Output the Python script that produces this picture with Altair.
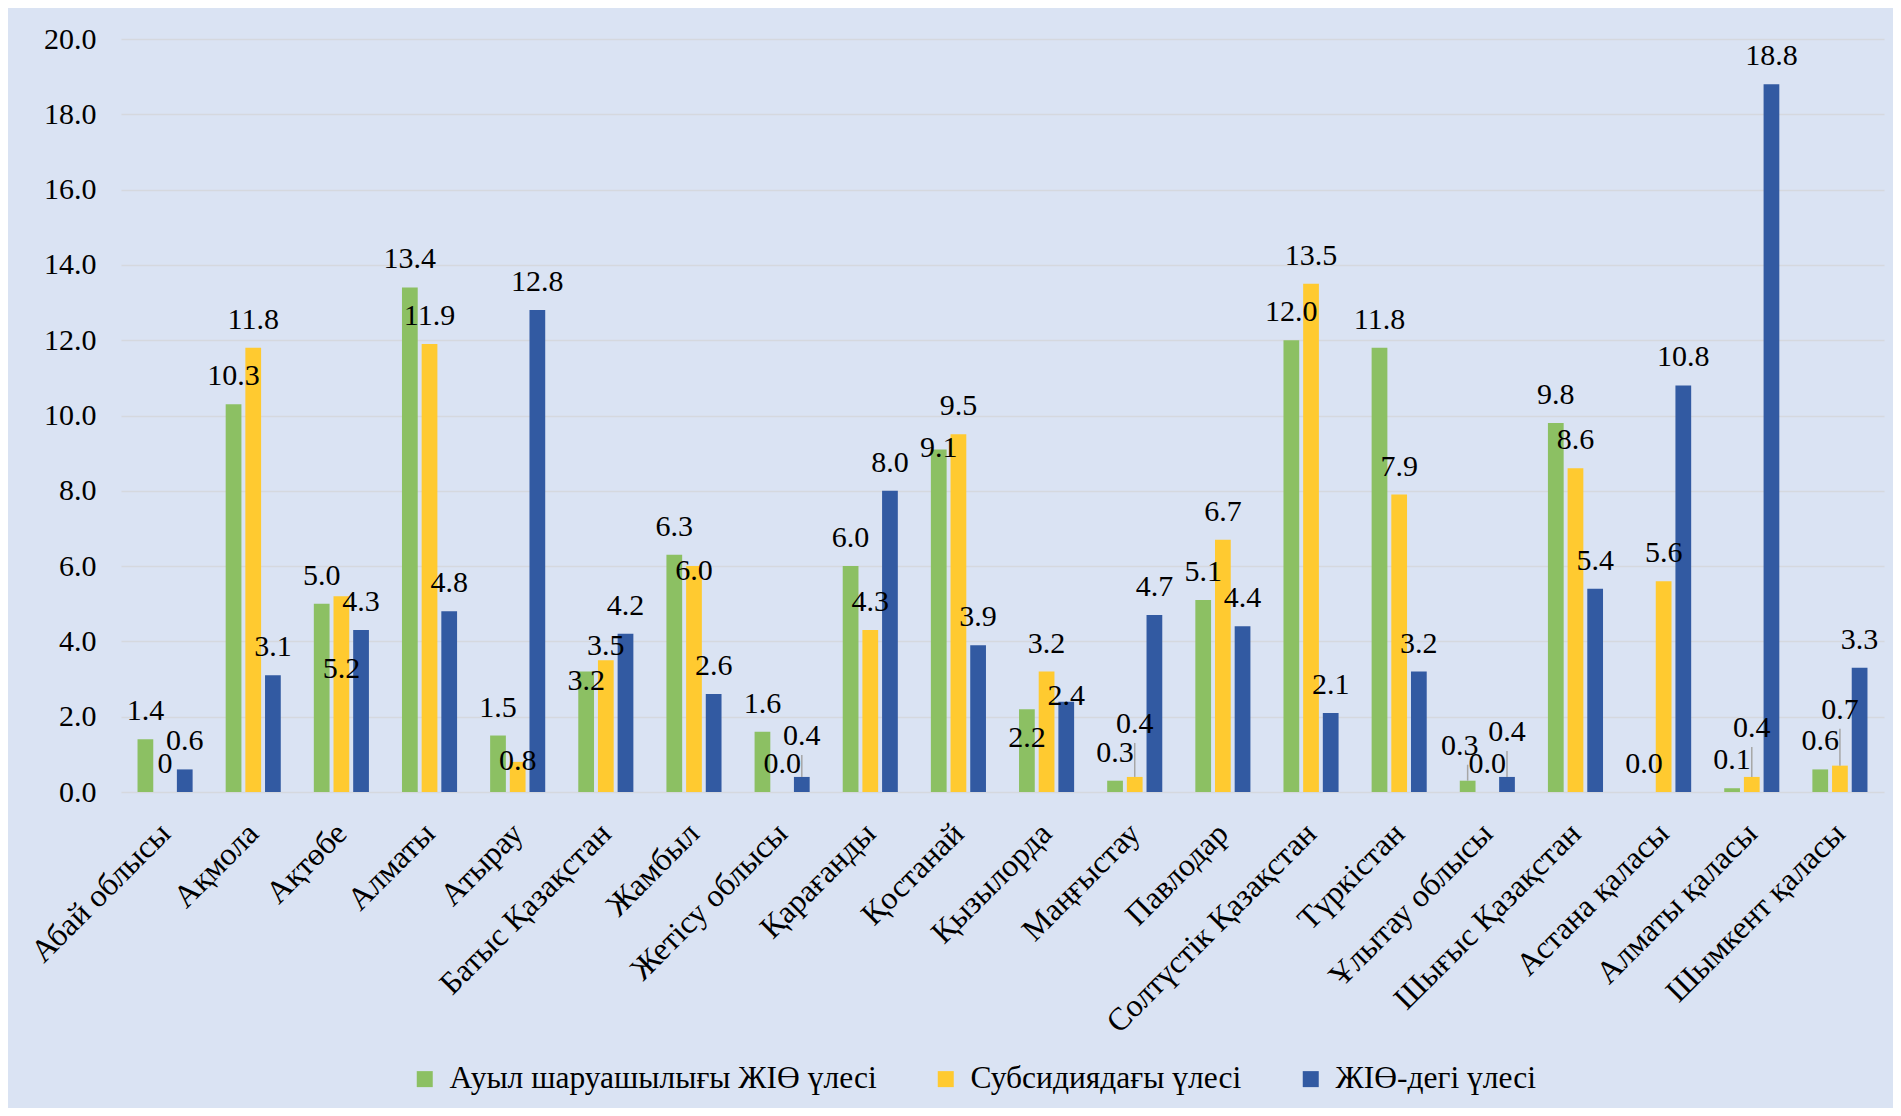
import altair as alt
import pandas as pd

regions = [
    "Абай облысы", "Ақмола", "Ақтөбе", "Алматы", "Атырау", "Батыс Қазақстан",
    "Жамбыл", "Жетісу облысы", "Қарағанды", "Қостанай", "Қызылорда", "Маңғыстау",
    "Павлодар", "Солтүстік Қазақстан", "Түркістан", "Ұлытау облысы",
    "Шығыс Қазақстан", "Астана қаласы", "Алматы қаласы", "Шымкент қаласы",
]
agri_gdp_share = [1.4, 10.3, 5.0, 13.4, 1.5, 3.2, 6.3, 1.6, 6.0, 9.1,
                  2.2, 0.3, 5.1, 12.0, 11.8, 0.3, 9.8, 0.0, 0.1, 0.6]
subsidy_share = [0.0, 11.8, 5.2, 11.9, 0.8, 3.5, 6.0, 0.0, 4.3, 9.5,
                 3.2, 0.4, 6.7, 13.5, 7.9, 0.0, 8.6, 5.6, 0.4, 0.7]
gdp_share = [0.6, 3.1, 4.3, 4.8, 12.8, 4.2, 2.6, 0.4, 8.0, 3.9,
             2.4, 4.7, 4.4, 2.1, 3.2, 0.4, 5.4, 10.8, 18.8, 3.3]

series_names = ["Ауыл шаруашылығы ЖІӨ үлесі", "Субсидиядағы үлесі", "ЖІӨ-дегі үлесі"]
series_colors = ["#8CC063", "#FFCA30", "#325AA2"]
label_overrides = {("Абай облысы", "Субсидиядағы үлесі"): "0"}
y_ticks = [0, 2, 4, 6, 8, 10, 12, 14, 16, 18, 20]

# Manual label nudges (pixels, + = down) as in the reference; negative ones carry a leader line
label_nudges = {
    ("Ақтөбе", "Субсидиядағы үлесі"): 101,
    ("Атырау", "Субсидиядағы үлесі"): 27,
    ("Батыс Қазақстан", "Ауыл шаруашылығы ЖІӨ үлесі"): 37,
    ("Батыс Қазақстан", "Субсидиядағы үлесі"): 14,
    ("Жамбыл", "Субсидиядағы үлесі"): 33,
    ("Жетісу облысы", "ЖІӨ-дегі үлесі"): -13,
    ("Қостанай", "Ауыл шаруашылығы ЖІӨ үлесі"): 27,
    ("Қызылорда", "Ауыл шаруашылығы ЖІӨ үлесі"): 57,
    ("Қызылорда", "ЖІӨ-дегі үлесі"): 22,
    ("Маңғыстау", "Субсидиядағы үлесі"): -25,
    ("Ұлытау облысы", "Ауыл шаруашылығы ЖІӨ үлесі"): -7,
    ("Ұлытау облысы", "ЖІӨ-дегі үлесі"): -17,
    ("Алматы қаласы", "Субсидиядағы үлесі"): -21,
    ("Шымкент қаласы", "Субсидиядағы үлесі"): -28,
}
# labels shifted sideways in the reference
label_shift_left = {("Ұлытау облысы", "Ауыл шаруашылығы ЖІӨ үлесі")}

FONT = "Liberation Serif"
PLOT_W, PLOT_H = 1763, 753
Y_MAX = 20
PX_PER_UNIT = PLOT_H / Y_MAX
LABEL_GAP = 19

rows = []
for i, reg in enumerate(regions):
    for s, vals in zip(series_names, [agri_gdp_share, subsidy_share, gdp_share]):
        v = vals[i]
        nudge = label_nudges.get((reg, s), 0)
        rows.append({
            "region": reg,
            "series": s,
            "value": v,
            "label": label_overrides.get((reg, s), f"{v:.1f}"),
            "label_y": v - nudge / PX_PER_UNIT,
            "leader": nudge < 0,
            "leader_top": v + (LABEL_GAP - nudge - 10) / PX_PER_UNIT,
            "shift": (reg, s) in label_shift_left,
        })
df = pd.DataFrame(rows)

x_enc = alt.X(
    "region:N", sort=regions,
    scale=alt.Scale(paddingInner=0.375, paddingOuter=0.1875),
    axis=alt.Axis(title=None, labelAngle=-45, labelAlign="right", labelBaseline="middle",
                  labelPadding=36, labelFont=FONT, labelFontSize=32, labelColor="black",
                  ticks=False, domain=False, labelLimit=0, labelOverlap=False),
)
xoff_enc = alt.XOffset("series:N", sort=series_names,
                       scale=alt.Scale(domain=series_names, paddingInner=0.2, paddingOuter=0))
y_scale = alt.Scale(domain=[0, Y_MAX], nice=False)
y_enc = alt.Y(
    "value:Q",
    scale=y_scale,
    axis=alt.Axis(title=None, values=y_ticks, format=".1f", labelFont=FONT, labelFontSize=30,
                  labelColor="black", labelPadding=25, ticks=False, domain=False,
                  grid=True, gridColor="#D5D8DE", gridWidth=1.5),
)

base = alt.Chart(df)

bars = base.mark_bar().encode(
    x=x_enc,
    xOffset=xoff_enc,
    y=y_enc,
    color=alt.Color(
        "series:N", sort=series_names,
        scale=alt.Scale(domain=series_names, range=series_colors),
        legend=alt.Legend(title=None, orient="none", legendX=288, legendY=1024,
                          direction="horizontal", symbolType="square", symbolSize=256,
                          symbolStrokeWidth=0, labelFont=FONT, labelFontSize=31.5,
                          labelColor="black", columnPadding=53, labelOffset=9,
                          labelLimit=0, padding=0),
    ),
)

leaders = base.transform_filter("datum.leader").mark_rule(color="#A6A6A6", strokeWidth=1.5).encode(
    x=x_enc,
    xOffset=xoff_enc,
    y=alt.Y("value:Q", scale=y_scale),
    y2="leader_top:Q",
)

label_enc = dict(
    x=x_enc,
    xOffset=xoff_enc,
    y=alt.Y("label_y:Q", scale=y_scale),
    text="label:N",
)

labels = base.transform_filter("!datum.shift").mark_text(
    baseline="alphabetic", dy=-LABEL_GAP, font=FONT, fontSize=30, color="black"
).encode(**label_enc)

labels_shifted = base.transform_filter("datum.shift").mark_text(
    baseline="alphabetic", dy=-LABEL_GAP, dx=-8, font=FONT, fontSize=30, color="black"
).encode(**label_enc)

chart = alt.layer(bars, leaders, labels, labels_shifted).properties(
    width=PLOT_W,
    height=PLOT_H,
    autosize=alt.AutoSizeParams(type="none"),
    padding={"left": 113, "top": 31, "right": 9, "bottom": 316},
).configure(background="#DAE3F3").configure_view(stroke=None)

chart.save("out.html", embed_options={"renderer": "svg", "actions": False})
